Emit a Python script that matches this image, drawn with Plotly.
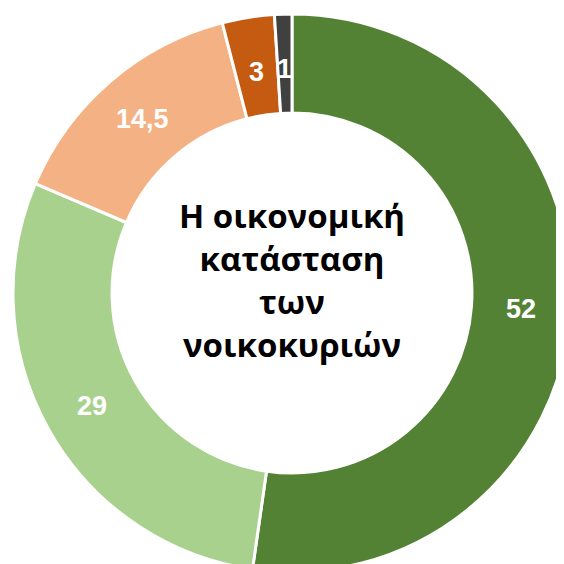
import math
import plotly.graph_objects as go

labels = ["Κατηγορία 1", "Κατηγορία 2", "Κατηγορία 3", "Κατηγορία 4", "Κατηγορία 5"]
values = [52, 29, 14.5, 3, 1]
colors = ["#548235", "#A9D18E", "#F4B183", "#C55A11", "#404040"]
center_title = "Η οικονομική<br>κατάσταση<br>των<br>νοικοκυριών"

W, H = 564, 564
MARGIN = dict(t=6, b=0, l=4, r=0)
HOLE = 0.645
LABEL_FONT = dict(family="Liberation Sans, Arial", size=27, color="white", weight="bold")

# thin slices: plotly pushes their text outwards, so place those labels
# ourselves at the middle of the ring (like the original)
thin = [v / sum(values) < 0.05 for v in values]

fig = go.Figure()

fig.add_trace(go.Pie(
    labels=labels,
    values=values,
    hole=HOLE,
    sort=False,
    direction="clockwise",
    rotation=0,
    marker=dict(colors=colors, line=dict(color="white", width=3)),
    texttemplate=["" if t else "%{value}" for t in thin],
    textposition="inside",
    insidetextorientation="horizontal",
    textfont=LABEL_FONT,
    hoverinfo="label+value",
    showlegend=False,
))

# ring geometry (plotly leaves a few px inside the domain)
dom_w = W - MARGIN["l"] - MARGIN["r"]
dom_h = H - MARGIN["t"] - MARGIN["b"]
r_out = min(dom_w, dom_h) / 2 - 7
r_mid = r_out * (1 + HOLE) / 2

total = sum(values)
cum = 0
for v, t in zip(values, thin):
    if t:
        frac = (cum + v / 2) / total
        ang = math.radians(90 - 360 * frac)
        fig.add_annotation(
            text=f"{v:g}",
            x=0.5 + r_mid * math.cos(ang) / dom_w,
            y=0.5 + r_mid * math.sin(ang) / dom_h,
            xref="paper", yref="paper",
            xanchor="center", yanchor="middle",
            showarrow=False,
            font=LABEL_FONT,
        )
    cum += v

fig.add_annotation(
    text=center_title,
    x=0.5, y=0.5, xref="paper", yref="paper",
    yshift=13,
    showarrow=False,
    font=dict(family="Open Sans", size=33, color="black", weight="bold"),
)

fig.update_layout(
    width=W,
    height=H,
    separators=",.",
    margin=MARGIN,
    paper_bgcolor="white",
    plot_bgcolor="white",
)

fig.write_html("out.html")
